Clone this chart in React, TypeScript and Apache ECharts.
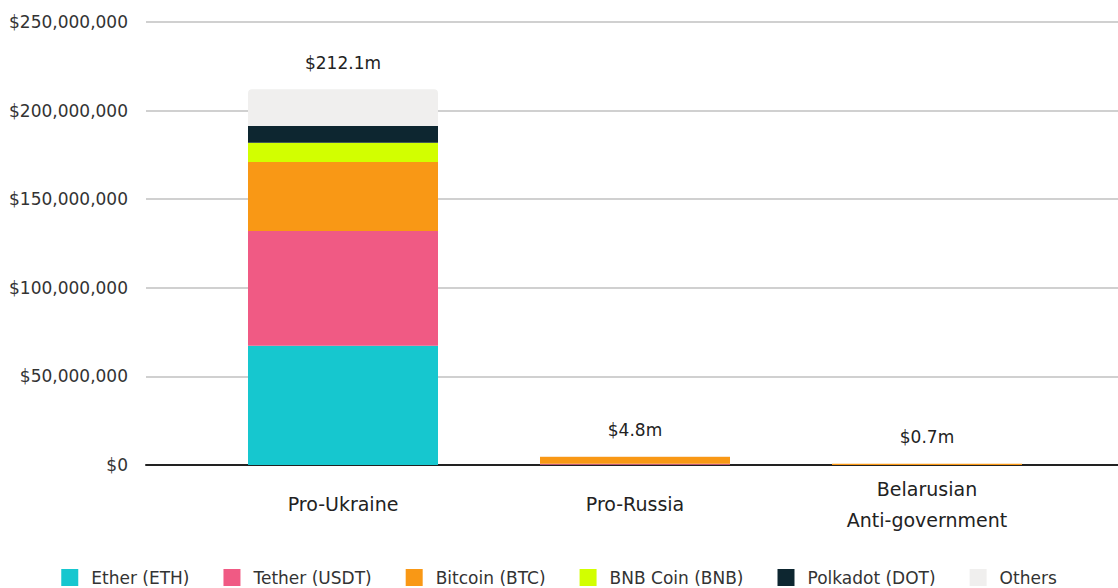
import React, { useEffect, useRef } from "react";
import * as echarts from "echarts";

const categories = ["Pro-Ukraine", "Pro-Russia", "Belarusian\nAnti-government"];
const seriesNames = ["Ether (ETH)", "Tether (USDT)", "Bitcoin (BTC)", "BNB Coin (BNB)", "Polkadot (DOT)", "Others"];
const eth = [67.3e6, 0.2e6, 0.0];
const usdt = [64.8e6, 0.5e6, 0.0];
const btc = [38.9e6, 4.0e6, 0.7e6];
const bnb = [10.9e6, 0.0, 0.0];
const dot = [9.4e6, 0.0, 0.0];
const others = [20.8e6, 0.1e6, 0.0];
const totalLabels = ["$212.1m", "$4.8m", "$0.7m"];
const colors = ["#16c7cf", "#f05a84", "#f99815", "#d2ff00", "#0d2630", "#f0efee"];

const FONT = "'DejaVu Sans', sans-serif";

export default function App() {
  const ref = useRef<HTMLDivElement>(null);
  useEffect(() => {
    document.body.style.margin = "0";
    const chart = echarts.init(ref.current!, null, { renderer: "svg" });
    const values = [eth, usdt, btc, bnb, dot, others];
    const series: any[] = values.map((v, i) => ({
      name: seriesNames[i],
      type: "bar",
      stack: "total",
      xAxisIndex: 1,
      yAxisIndex: 1,
      barWidth: 190,
      data: v,
      itemStyle: { color: colors[i], borderRadius: i === 5 ? [4, 4, 0, 0] : 0 },
      label:
        i === 5
          ? {
              show: true,
              position: "top",
              distance: 18,
              formatter: (p: any) => totalLabels[p.dataIndex],
              color: "#222",
              fontSize: 17,
              fontFamily: FONT,
            }
          : { show: false },
    }));
    series.push({
      type: "bar",
      xAxisIndex: 0,
      yAxisIndex: 0,
      data: [],
      silent: true,
    });
    chart.setOption({
      animation: false,
      textStyle: { fontFamily: FONT },
      grid: [
        { left: 146, right: 0, top: 22, height: 443, containLabel: false },
        { left: 197, right: 45, top: 22, height: 443, containLabel: false },
      ],
      legend: {
        data: seriesNames,
        top: 564,
        left: "center",
        itemWidth: 17,
        itemHeight: 17,
        itemGap: 34,
        icon: "rect",
        textStyle: { fontSize: 17, color: "#333", fontFamily: FONT, padding: [0, 0, 0, 8] },
      },
      xAxis: [
        {
          type: "category",
          gridIndex: 0,
          data: ["a"],
          axisLine: { show: true, lineStyle: { color: "#222", width: 2 } },
          axisTick: { show: false },
          axisLabel: { show: false },
        },
        {
          type: "category",
          gridIndex: 1,
          data: categories,
          axisLine: { show: false },
          axisTick: { show: false },
          axisLabel: {
            color: "#222",
            fontSize: 19,
            margin: 39,
            lineHeight: 31,
            verticalAlign: "middle",
            fontFamily: FONT,
          },
        },
      ],
      yAxis: [
        {
          type: "value",
          gridIndex: 0,
          min: 0,
          max: 250e6,
          interval: 50e6,
          axisLine: { show: false },
          axisTick: { show: false },
          splitLine: { lineStyle: { color: "#d0d0d0", width: 2 } },
          axisLabel: {
            margin: 18,
            color: "#333",
            fontSize: 17,
            fontFamily: FONT,
            formatter: (v: number) => "$" + v.toLocaleString("en-US"),
          },
        },
        {
          type: "value",
          gridIndex: 1,
          min: 0,
          max: 250e6,
          interval: 50e6,
          axisLine: { show: false },
          axisTick: { show: false },
          splitLine: { show: false },
          axisLabel: { show: false },
        },
      ],
      series,
    });
    return () => chart.dispose();
  }, []);
  return <div ref={ref} style={{ width: 1118, height: 588 }} />;
}
